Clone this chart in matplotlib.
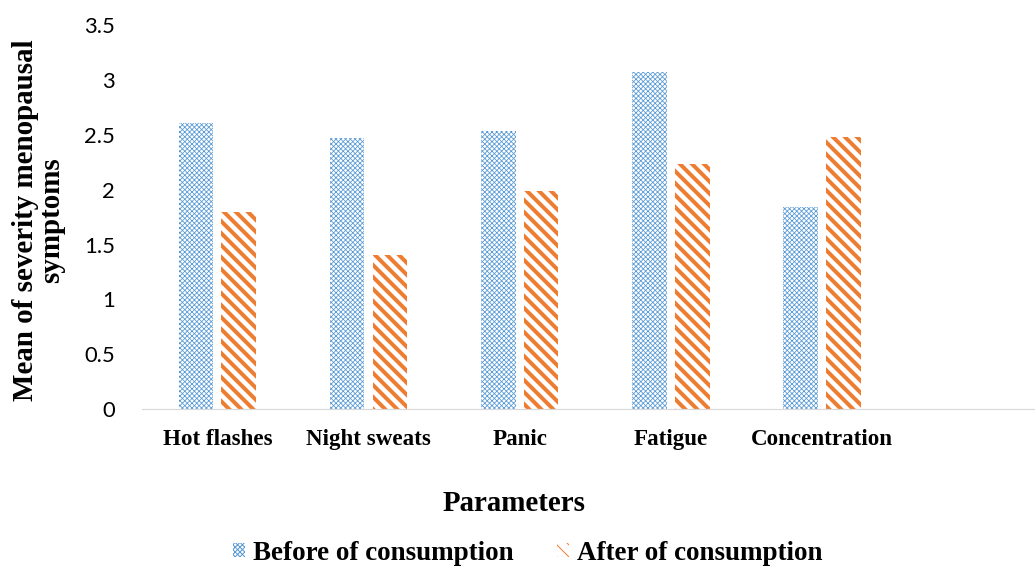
import matplotlib.pyplot as plt
import numpy as np

# datos
parametros = ['Hot flashes', 'Night sweats', 'Panic', 'Fatigue', 'Concentration']
antes = [2.61, 2.47, 2.53, 3.07, 1.84]
despues = [1.80, 1.40, 1.99, 2.23, 2.48]
yticks = [0, 0.5, 1, 1.5, 2, 2.5, 3, 3.5]

azul = '#5B9BD5'
naranja = '#ED7D31'
serif = 'Liberation Serif'

fig = plt.figure(figsize=(1035 / 72, 569 / 72), dpi=72)
ax = fig.add_axes([0.137, 0.281, 0.863, 0.675])

x = np.arange(len(parametros))
ancho = 0.23


def barras(pos, vals, color, hatch, hlw, label):
    b = ax.bar(pos, vals, ancho, facecolor='white', edgecolor=color,
               linewidth=0, hatch=hatch, label=label)
    for p in b:
        try:
            p.set_hatch_linewidth(hlw)
        except AttributeError:
            plt.rcParams['hatch.linewidth'] = hlw
    return b


barras(x - 0.142, antes, azul, 'xxxxx', 0.8, 'Before of consumption')
barras(x + 0.142, despues, naranja, '\\\\', 4.0, 'After of consumption')

ax.set_xlim(-0.5, 5.41)
ax.set_ylim(0, 3.5)
ax.set_yticks(yticks)
ax.set_yticklabels([f'{v:g}' for v in yticks], fontsize=22, family='Lato')
ax.set_xticks(x)
ax.set_xticklabels(parametros, fontsize=23, family=serif, fontweight='bold')
ax.tick_params(axis='both', length=0)
ax.tick_params(axis='x', pad=20)
ax.tick_params(axis='y', pad=27)

for s in ['top', 'right', 'left']:
    ax.spines[s].set_visible(False)
ax.spines['bottom'].set_color('#D9D9D9')
ax.spines['bottom'].set_linewidth(1.2)

ax.set_xlabel('Parameters', fontsize=29, family=serif, fontweight='bold')
ax.xaxis.set_label_coords(0.417, -0.21)
fig.text(0.037, 0.613, 'Mean of severity menopausal\nsymptoms', rotation=90,
         ha='center', va='center', fontsize=29, family=serif, fontweight='bold',
         linespacing=0.95)

leg = fig.legend(loc='center', bbox_to_anchor=(0.51, 0.028), ncol=2, frameon=False,
                 prop={'family': serif, 'weight': 'bold', 'size': 27},
                 handlelength=0.45, handleheight=0.45, handletextpad=0.3, columnspacing=1.6)

fig.savefig('out.png', dpi=72)
